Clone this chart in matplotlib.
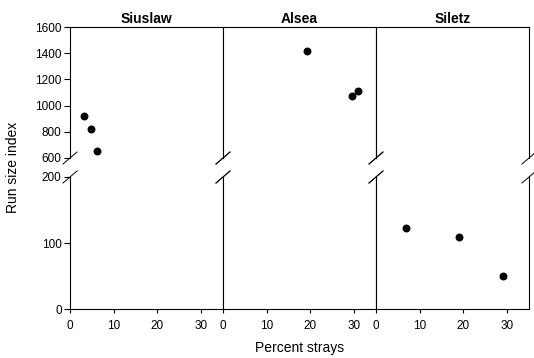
import matplotlib
matplotlib.use("Agg")
import matplotlib.pyplot as plt

plt.rcParams["font.family"] = ["Liberation Sans", "DejaVu Sans"]

# data (percent strays, run size index)
rivers = ["Siuslaw", "Alsea", "Siletz"]
strays = {
    "Siuslaw": [3.3, 4.7, 6.2],
    "Alsea": [19.2, 29.4, 30.8],
    "Siletz": [6.9, 19.1, 29.1],
}
run_size = {
    "Siuslaw": [923, 824, 657],
    "Alsea": [1418, 1073, 1108],
    "Siletz": [123, 109, 50],
}

upper_ticks = [600, 800, 1000, 1200, 1400, 1600]
lower_ticks = [0, 100, 200]
x_ticks = [0, 10, 20, 30]

fig = plt.figure(figsize=(5.34, 3.58), dpi=100)

left0 = 70 / 534
pw = 153 / 534
up_bot, up_h = 1 - 158 / 358, (158 - 27) / 358
lo_bot, lo_h = 1 - 309 / 358, (309 - 177) / 358

d_x, d_y = 7 / 534, 6 / 358   # half-size of break slashes (figure fraction)

for i, river in enumerate(rivers):
    x0 = left0 + i * pw
    ax_up = fig.add_axes([x0, up_bot, pw, up_h])
    ax_lo = fig.add_axes([x0, lo_bot, pw, lo_h])

    for ax in (ax_up, ax_lo):
        ax.set_xlim(0, 35)
        for sp in ax.spines.values():
            sp.set_linewidth(0.8)
            sp.set_color("black")

    vals_x = strays[river]
    vals_y = run_size[river]
    ax_up.scatter(vals_x, vals_y, s=22, color="black", zorder=3, clip_on=False)
    ax_lo.scatter(vals_x, vals_y, s=22, color="black", zorder=3, clip_on=False)

    ax_up.set_ylim(600, 1600)
    ax_lo.set_ylim(0, 200)
    ax_up.spines["bottom"].set_visible(False)
    ax_lo.spines["top"].set_visible(False)

    ax_up.set_xticks([])
    ax_lo.set_xticks(x_ticks)
    ax_lo.tick_params(axis="x", direction="out", length=3, width=0.8, labelsize=8.5, pad=5)

    if i == 0:
        ax_up.set_yticks(upper_ticks)
        ax_lo.set_yticks(lower_ticks)
        for ax in (ax_up, ax_lo):
            ax.tick_params(axis="y", direction="out", length=4, width=0.8, labelsize=8.5, pad=2)
    else:
        ax_up.set_yticks([])
        ax_lo.set_yticks([])

    ax_up.set_title(river, fontsize=10, fontweight="bold", pad=3)

    # break marks on both vertical borders
    for xe in (x0, x0 + pw):
        for ye in (up_bot, lo_bot + lo_h):
            fig.add_artist(plt.Line2D([xe - d_x, xe + d_x], [ye - d_y, ye + d_y],
                                      color="black", linewidth=0.7))

fig.text(13 / 534, 1 - 167 / 358, "Run size index", rotation=90, ha="center", va="center", fontsize=10)
fig.text((left0 + 1.5 * pw), 1 - 348 / 358, "Percent strays", ha="center", va="center", fontsize=10)

fig.savefig("out.png", dpi=100)
